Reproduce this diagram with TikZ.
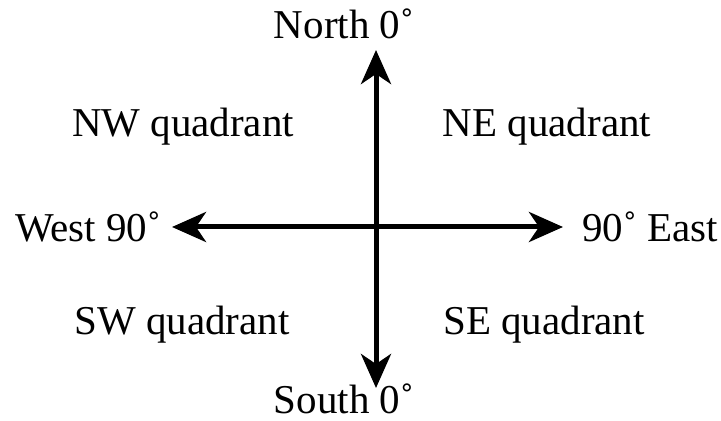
\documentclass[tikz,border=0pt]{standalone}
\usepackage{fontspec}
\setmainfont{Liberation Serif}
\usepackage{tikz}
\usetikzlibrary{arrows.meta}

\begin{document}
\begin{tikzpicture}[x=0.5pt, y=-0.5pt,
    lbl/.style={inner sep=0pt, font=\fontsize{20.5}{24}\selectfont},
    axis/.style={line width=2.5pt, {Stealth[length=17pt, width=15pt, inset=5pt]}-{Stealth[length=17pt, width=15pt, inset=5pt]}}]
  \useasboundingbox (0,0) rectangle (721,421);

  \coordinate (ntip) at (376,50);
  \coordinate (stip) at (376,388);
  \coordinate (wtip) at (172,227);
  \coordinate (etip) at (563,227);

  \node[lbl] (north) at (344,24) {North 0˚};
  \node[lbl] (south) at (344,399) {South 0˚};
  \node[lbl] (west) at (88,227) {West 90˚};
  \node[lbl] (east) at (650,227) {90˚ East};

  \node[lbl] (nw) at (183,127) {NW quadrant};
  \node[lbl] (ne) at (547,127) {NE quadrant};
  \node[lbl] (sw) at (182,325) {SW quadrant};
  \node[lbl] (se) at (544,325) {SE quadrant};

  % Vertical
  \draw[axis] (stip) -- (ntip);
  % Horizontal
  \draw[axis] (wtip) -- (etip);
\end{tikzpicture}
\end{document}
